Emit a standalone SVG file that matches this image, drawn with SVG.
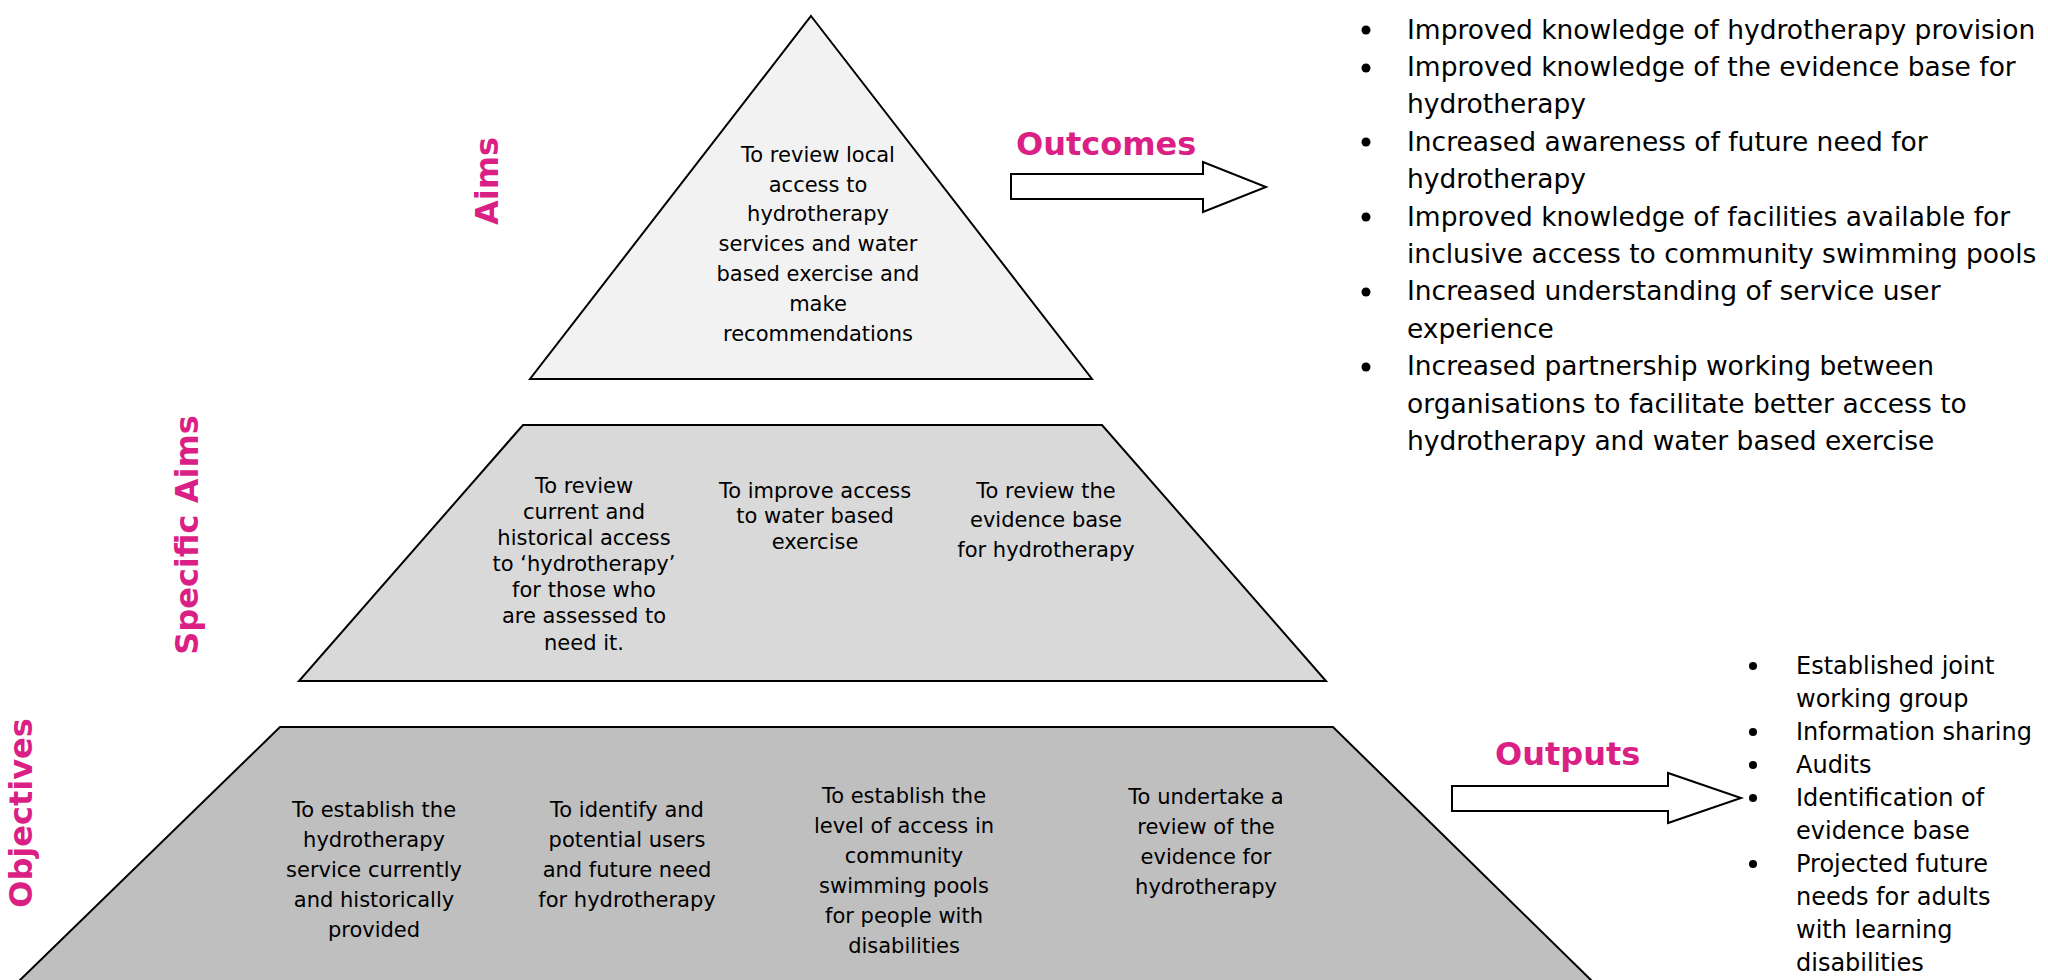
<svg xmlns="http://www.w3.org/2000/svg" width="2048" height="980" viewBox="0 0 2048 980">
<style>
.tier{stroke:#000;stroke-width:2;stroke-linejoin:miter}
.t{font-family:"DejaVu Sans",Verdana,sans-serif;font-size:21px;fill:#000;text-anchor:middle}
.lbl{font-family:"DejaVu Sans",Verdana,sans-serif;font-size:32px;font-weight:bold;fill:#DA1F85}
.lo{font-family:"DejaVu Sans",Verdana,sans-serif;font-size:26.5px;fill:#000}
.lp{font-family:"DejaVu Sans",Verdana,sans-serif;font-size:24px;fill:#000}
.arrow{fill:#fff;stroke:#000;stroke-width:2}
</style>
<rect width="2048" height="980" fill="#fff"/>
<g id="aims">
<polygon class="tier" fill="#F2F2F2" points="811,16 1092,379 530,379"/>
<text class="t"><tspan x="818" y="162">To review local</tspan><tspan x="818" y="192">access to</tspan><tspan x="818" y="221">hydrotherapy</tspan><tspan x="818" y="251">services and water</tspan><tspan x="818" y="281">based exercise and</tspan><tspan x="818" y="311">make</tspan><tspan x="818" y="341">recommendations</tspan></text>
<text class="lbl" text-anchor="middle" transform="translate(498,181) rotate(-90)">Aims</text>
</g>
<g id="specific-aims">
<polygon class="tier" fill="#D9D9D9" points="523,425 1102,425 1326,681 299,681"/>
<text class="t"><tspan x="584" y="493">To review</tspan><tspan x="584" y="519">current and</tspan><tspan x="584" y="545">historical access</tspan><tspan x="584" y="571">to ‘hydrotherapy’</tspan><tspan x="584" y="597">for those who</tspan><tspan x="584" y="623">are assessed to</tspan><tspan x="584" y="650">need it.</tspan></text>
<text class="t"><tspan x="815" y="498">To improve access</tspan><tspan x="815" y="523">to water based</tspan><tspan x="815" y="549">exercise</tspan></text>
<text class="t"><tspan x="1046" y="498">To review the</tspan><tspan x="1046" y="527">evidence base</tspan><tspan x="1046" y="557">for hydrotherapy</tspan></text>
<text class="lbl" text-anchor="middle" transform="translate(198,535) rotate(-90)">Specific Aims</text>
</g>
<g id="objectives">
<polygon class="tier" fill="#BFBFBF" points="280,727 1333,727 1593,982 18,982"/>
<text class="t"><tspan x="374" y="817">To establish the</tspan><tspan x="374" y="847">hydrotherapy</tspan><tspan x="374" y="877">service currently</tspan><tspan x="374" y="907">and historically</tspan><tspan x="374" y="937">provided</tspan></text>
<text class="t"><tspan x="627" y="817">To identify and</tspan><tspan x="627" y="847">potential users</tspan><tspan x="627" y="877">and future need</tspan><tspan x="627" y="907">for hydrotherapy</tspan></text>
<text class="t"><tspan x="904" y="803">To establish the</tspan><tspan x="904" y="833">level of access in</tspan><tspan x="904" y="863">community</tspan><tspan x="904" y="893">swimming pools</tspan><tspan x="904" y="923">for people with</tspan><tspan x="904" y="953">disabilities</tspan></text>
<text class="t"><tspan x="1206" y="804">To undertake a</tspan><tspan x="1206" y="834">review of the</tspan><tspan x="1206" y="864">evidence for</tspan><tspan x="1206" y="894">hydrotherapy</tspan></text>
<text class="lbl" text-anchor="middle" transform="translate(32,813) rotate(-90)">Objectives</text>
</g>
<g id="connectors">
<polygon class="arrow" points="1011,174 1203,174 1203,162 1266,187 1203,212 1203,199 1011,199"/>
<polygon class="arrow" points="1452,786 1668,786 1668,773 1741,798 1668,823 1668,811 1452,811"/>
</g>
<g id="outcomes">
<text class="lbl" x="1016" y="155">Outcomes</text>
<g fill="#000"><circle cx="1366" cy="30" r="4.5"/><circle cx="1366" cy="68" r="4.5"/><circle cx="1366" cy="142" r="4.5"/><circle cx="1366" cy="217" r="4.5"/><circle cx="1366" cy="292" r="4.5"/><circle cx="1366" cy="367" r="4.5"/></g>
<text class="lo"><tspan x="1407" y="39">Improved knowledge of hydrotherapy provision</tspan><tspan x="1407" y="76">Improved knowledge of the evidence base for</tspan><tspan x="1407" y="113">hydrotherapy</tspan><tspan x="1407" y="151">Increased awareness of future need for</tspan><tspan x="1407" y="188">hydrotherapy</tspan><tspan x="1407" y="226">Improved knowledge of facilities available for</tspan><tspan x="1407" y="263">inclusive access to community swimming pools</tspan><tspan x="1407" y="300">Increased understanding of service user</tspan><tspan x="1407" y="338">experience</tspan><tspan x="1407" y="375">Increased partnership working between</tspan><tspan x="1407" y="413">organisations to facilitate better access to</tspan><tspan x="1407" y="450">hydrotherapy and water based exercise</tspan></text>
</g>
<g id="outputs">
<text class="lbl" x="1495" y="765">Outputs</text>
<g fill="#000"><circle cx="1753" cy="666" r="4"/><circle cx="1753" cy="732" r="4"/><circle cx="1753" cy="765" r="4"/><circle cx="1753" cy="798" r="4"/><circle cx="1753" cy="864" r="4"/></g>
<text class="lp"><tspan x="1796" y="674">Established joint</tspan><tspan x="1796" y="707">working group</tspan><tspan x="1796" y="740">Information sharing</tspan><tspan x="1796" y="773">Audits</tspan><tspan x="1796" y="806">Identification of</tspan><tspan x="1796" y="839">evidence base</tspan><tspan x="1796" y="872">Projected future</tspan><tspan x="1796" y="905">needs for adults</tspan><tspan x="1796" y="938">with learning</tspan><tspan x="1796" y="971">disabilities</tspan></text>
</g>
</svg>
